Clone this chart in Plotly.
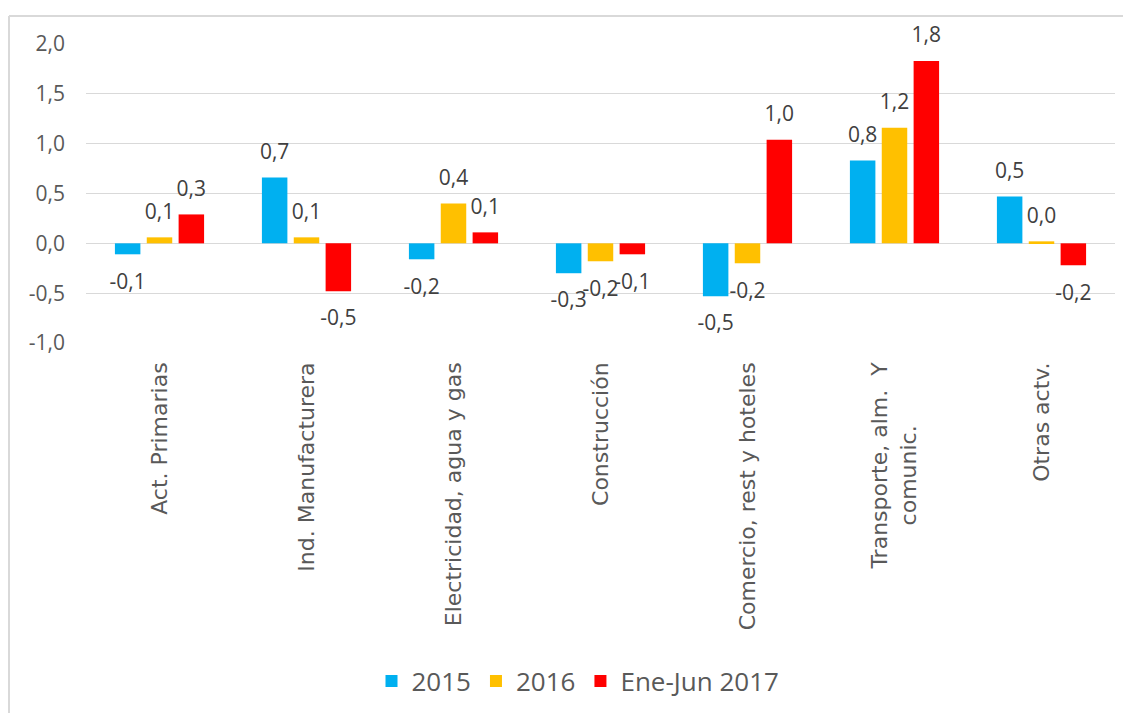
import plotly.graph_objects as go

categories = ["Act. Primarias", "Ind. Manufacturera", "Electricidad, agua y gas",
              "Construcción", "Comercio, rest y hoteles",
              "Transporte, alm.  Y<br>comunic." + "\u00a0" * 9,
              "Otras actv."]
series_names = ["2015", "2016", "Ene-Jun 2017"]
v2015 = [-0.11, 0.66, -0.16, -0.30, -0.53, 0.83, 0.47]
v2016 = [0.06, 0.06, 0.40, -0.18, -0.20, 1.16, 0.02]
v2017 = [0.29, -0.48, 0.11, -0.11, 1.04, 1.83, -0.22]
colors = ["#00B0F0", "#FFC000", "#FF0000"]
y_ticks = [-1.0, -0.5, 0.0, 0.5, 1.0, 1.5, 2.0]
y_tick_labels = ["-1,0", "-0,5", "0,0", "0,5", "1,0", "1,5", "2,0"]

FONT = "Open Sans"
CAT_FONT = "DejaVu Sans"
LABEL_COLOR = "#404040"
TICK_COLOR = "#595959"


def fmt(v):
    return f"{v:.1f}".replace(".", ",")


fig = go.Figure()
all_series = [v2015, v2016, v2017]
for i, (name, vals, col) in enumerate(zip(series_names, all_series, colors)):
    fig.add_trace(go.Bar(
        x=categories, y=vals, name=name, marker_color=col,
        marker_line_width=0, offsetgroup=str(i),
    ))
for i, (name, vals) in enumerate(zip(series_names, all_series)):
    fig.add_trace(go.Scatter(
        x=categories, y=vals, mode="markers+text", showlegend=False,
        offsetgroup=str(i),
        text=[fmt(v) for v in vals],
        textposition=["top center" if v >= 0 else "bottom center" for v in vals],
        marker=dict(size=[20 if v >= 0 else 28 for v in vals], opacity=0),
        textfont=dict(family=FONT, size=21, color=LABEL_COLOR),
        cliponaxis=False, hoverinfo="skip",
    ))

# page body has an 8px margin: figure occupies window pixels 8..1131, 8..713
OFF = 8
W, H = 1131 - OFF, 713 - OFF
# desired window-pixel extents of the plot area
X0, X1, Y0, Y1 = 86, 1115, 44, 343
L, R, T, B = X0 - OFF, (1131 - X1), Y0 - OFF, (713 - Y1)
pw = X1 - X0
ph = Y1 - Y0


def px(x):
    return (x - X0) / pw


def py(y):
    return (Y1 - y) / ph


fig.update_layout(
    width=W, height=H,
    margin=dict(l=L, r=R, t=T, b=B, autoexpand=False),
    paper_bgcolor="white", plot_bgcolor="white",
    barmode="group", bargap=0.35, bargroupgap=0.2,
    scattermode="group", scattergap=0.35,
    font=dict(family=FONT, color=TICK_COLOR),
    showlegend=True,
    legend=dict(orientation="h", x=px(578), xanchor="center", y=py(681), yanchor="middle",
                font=dict(family=FONT, size=26, color=TICK_COLOR),
                itemwidth=30, traceorder="normal"),
    shapes=[
        dict(type="line", xref="paper", yref="paper", x0=px(9), x1=px(1140),
             y0=py(16), y1=py(16), line=dict(color="#D9D9D9", width=2), layer="below"),
        dict(type="line", xref="paper", yref="paper", x0=px(9), x1=px(9),
             y0=py(16), y1=py(720), line=dict(color="#D9D9D9", width=2), layer="below"),
    ],
)
fig.update_yaxes(
    range=[-1.0, 2.0], tickvals=y_ticks, ticktext=y_tick_labels, automargin=False,
    showgrid=True, gridcolor="#D9D9D9", gridwidth=1,
    zeroline=True, zerolinecolor="#D9D9D9", zerolinewidth=1,
    showline=False, ticks="", ticklabelstandoff=20,
    tickfont=dict(family=FONT, size=21, color=TICK_COLOR),
)
fig.update_xaxes(
    tickangle=-90, showline=False, ticks="", ticklabelstandoff=14, automargin=False,
    tickfont=dict(family=CAT_FONT, size=22, color=TICK_COLOR),
)
fig.write_html("out.html")
